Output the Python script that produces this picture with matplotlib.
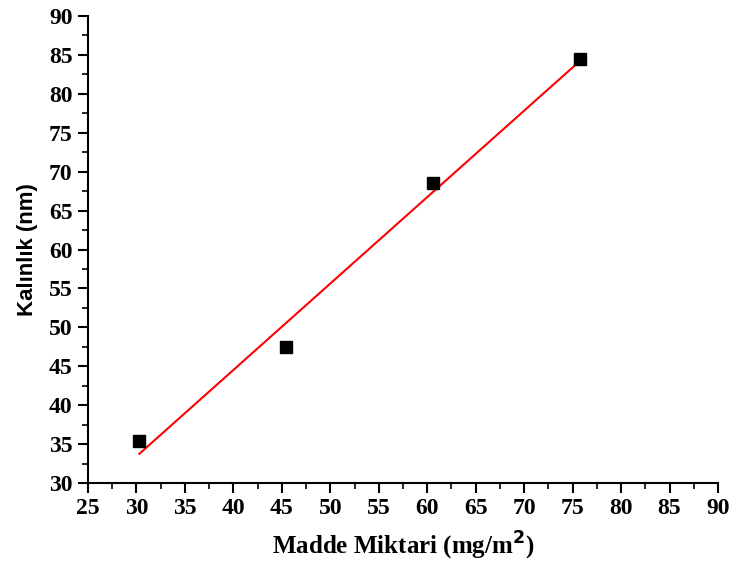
import matplotlib.pyplot as plt
import numpy as np
from matplotlib.ticker import MultipleLocator

# Data
madde = np.array([30.3, 45.45, 60.6, 75.8])
kalinlik = np.array([35.4, 47.5, 68.6, 84.5])

# Linear fit through the points
slope, intercept = np.polyfit(madde, kalinlik, 1)
fit_x = np.array([madde[0], madde[-1]])
fit_y = slope * fit_x + intercept

fig = plt.figure(figsize=(7.33, 5.68), dpi=100)
ax = fig.add_axes([0.12, 0.1496, 0.8595, 0.8222])

ax.plot(fit_x, fit_y, color='red', lw=1.5, zorder=2)
ax.plot(madde, kalinlik, 's', color='black', ms=8, zorder=3)

ax.set_xlim(25, 90)
ax.set_ylim(30, 90)
ax.xaxis.set_major_locator(MultipleLocator(5))
ax.xaxis.set_minor_locator(MultipleLocator(2.5))
ax.yaxis.set_major_locator(MultipleLocator(5))
ax.yaxis.set_minor_locator(MultipleLocator(2.5))

for side in ['top', 'right']:
    ax.spines[side].set_visible(False)
for side in ['left', 'bottom']:
    ax.spines[side].set_linewidth(1.5)

ax.tick_params(which='major', direction='out', length=7, width=1.5, pad=4)
ax.tick_params(which='minor', direction='out', length=4, width=1.2)
for lbl in ax.get_xticklabels() + ax.get_yticklabels():
    lbl.set_fontfamily('Liberation Serif')
    lbl.set_fontweight('bold')
    lbl.set_fontsize(17)

ax.set_xlabel(r'Madde Miktari (mg/m$^{\mathbf{2}}$)', fontfamily='Liberation Serif',
              fontweight='bold', fontsize=18, labelpad=8)
ax.set_ylabel('Kalınlık (nm)', fontfamily='Liberation Sans', fontweight='bold',
              fontsize=16, labelpad=8)

fig.savefig('out.png', dpi=100)
